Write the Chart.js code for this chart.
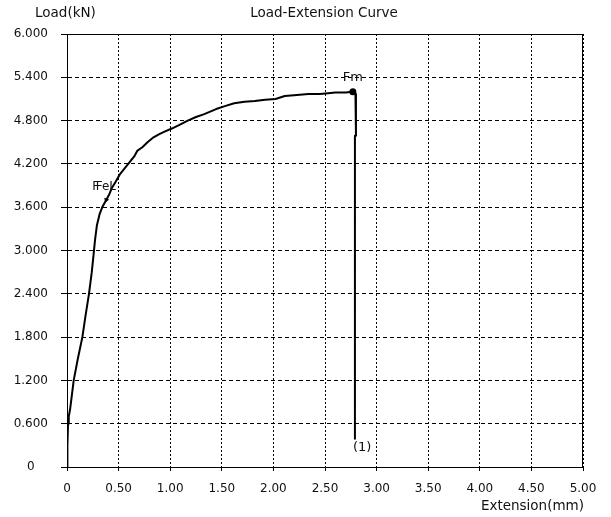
<!DOCTYPE html>
<html>
<head>
<meta charset="utf-8">
<script src="https://cdn.jsdelivr.net/npm/chart.js@4/dist/chart.umd.min.js"></script>
<style>
  html, body { margin: 0; padding: 0; background: #fff; }
  canvas { display: block; }
</style>
</head>
<body>
<canvas id="c" width="611" height="517"></canvas>
<script>
// ---- Data ----
const extension = [0, 0.004, 0.010, 0.017, 0.030, 0.065, 0.105, 0.149, 0.180, 0.213, 0.240, 0.258, 0.272, 0.290, 0.315, 0.345, 0.380, 0.410, 0.436, 0.470, 0.510, 0.560, 0.615, 0.650, 0.680, 0.730, 0.780, 0.830, 0.890, 0.950, 1.016, 1.090, 1.170, 1.250, 1.330, 1.445, 1.530, 1.620, 1.720, 1.820, 1.920, 2.020, 2.110, 2.200, 2.340, 2.450, 2.530, 2.600, 2.700, 2.770, 2.795, 2.800, 2.790, 2.790];
const load      = [0, 0.30, 0.60, 0.70, 0.80, 1.20, 1.50, 1.80, 2.10, 2.40, 2.70, 2.95, 3.15, 3.35, 3.50, 3.61, 3.70, 3.78, 3.87, 3.95, 4.05, 4.14, 4.24, 4.30, 4.38, 4.43, 4.50, 4.56, 4.61, 4.65, 4.69, 4.74, 4.80, 4.85, 4.89, 4.96, 5.00, 5.04, 5.06, 5.07, 5.09, 5.10, 5.14, 5.15, 5.17, 5.17, 5.18, 5.19, 5.19, 5.20, 5.17, 4.59, 4.59, 0.39];

const fmExt = [2.77], fmLoad = [5.20];     // Fm (maximum force)
const felExt = [0.38], felLoad = [3.70];   // FeL
const breakExt = [2.79], breakLoad = [0.39]; // specimen (1) end

const xTickValues = [0, 0.5, 1, 1.5, 2, 2.5, 3, 3.5, 4, 4.5, 5];
const xTickLabels = ['0', '0.50', '1.00', '1.50', '2.00', '2.50', '3.00', '3.50', '4.00', '4.50', '5.00'];
const yTickValues = [0, 0.6, 1.2, 1.8, 2.4, 3.0, 3.6, 4.2, 4.8, 5.4, 6.0];
const yTickLabels = ['0', '0.600', '1.200', '1.800', '2.400', '3.000', '3.600', '4.200', '4.800', '5.400', '6.000'];

const titleText = 'Load-Extension Curve';
const yTitleText = 'Load(kN)';
const xTitleText = 'Extension(mm)';

// ---- Chart ----
const FONT = "'DejaVu Sans', sans-serif";
Chart.defaults.font.family = FONT;
Chart.defaults.font.size = 12;
Chart.defaults.color = '#000';

const annotate = {
  id: 'annotate',
  afterDraw(chart) {
    const { ctx, chartArea: a, scales: { x, y } } = chart;
    ctx.save();
    // frame (top and right)
    ctx.strokeStyle = '#000';
    ctx.lineWidth = 1;
    ctx.setLineDash([]);
    ctx.beginPath();
    ctx.moveTo(Math.round(a.left), Math.round(a.top) + 0.5);
    ctx.lineTo(Math.round(a.right) - 0.5, Math.round(a.top) + 0.5);
    ctx.lineTo(Math.round(a.right) - 0.5, Math.round(a.bottom));
    ctx.stroke();

    ctx.fillStyle = '#111';
    ctx.textBaseline = 'middle';
    ctx.font = "13.5px " + FONT;
    ctx.textAlign = 'center';
    ctx.fillText(titleText, 324, 13.5);
    ctx.textAlign = 'left';
    ctx.fillText(yTitleText, 35, 13.5);
    ctx.textAlign = 'right';
    ctx.fillText(xTitleText, 584, 506);

    // point labels
    ctx.font = "13px " + FONT;
    ctx.textAlign = 'center';
    ctx.fillText('Fm', x.getPixelForValue(fmExt[0]), y.getPixelForValue(fmLoad[0]) - 14.5);
    ctx.textAlign = 'left';
    ctx.fillText('(1)', x.getPixelForValue(breakExt[0]) - 2, y.getPixelForValue(breakLoad[0]) + 8.5);
    ctx.font = "12px " + FONT;
    const fx = x.getPixelForValue(felExt[0]), fy = y.getPixelForValue(felLoad[0]);
    ctx.fillText('F', fx - 14, fy - 13.3);
    ctx.fillText('FeL', fx - 10.5, fy - 13.3);
    ctx.restore();
  }
};

new Chart(document.getElementById('c'), {
  type: 'scatter',
  data: {
    datasets: [
      {
        data: extension.map((v, i) => ({ x: v, y: load[i] })),
        showLine: true,
        borderColor: '#000',
        borderWidth: 2,
        borderJoinStyle: 'round',
        pointRadius: 0,
        tension: 0
      },
      {
        data: fmExt.map((v, i) => ({ x: v, y: fmLoad[i] })),
        pointRadius: 3.5,
        backgroundColor: '#000',
        borderColor: '#000',
        borderWidth: 0
      },
      {
        data: felExt.map((v, i) => ({ x: v, y: felLoad[i] })),
        pointStyle: 'triangle',
        rotation: 200,
        pointRadius: 3,
        backgroundColor: '#000',
        borderColor: '#000',
        borderWidth: 0
      }
    ]
  },
  options: {
    animation: false,
    responsive: false,
    devicePixelRatio: 1,
    layout: { padding: { top: 34, right: 28, left: 0, bottom: 0 } },
    plugins: { legend: { display: false }, tooltip: { enabled: false }, title: { display: false } },
    scales: {
      x: {
        type: 'linear',
        min: 0, max: 5,
        afterBuildTicks: s => { s.ticks = xTickValues.map(v => ({ value: v })); },
        afterFit: s => { s.height = 50; },
        ticks: {
          callback: (v, i) => xTickLabels[i],
          padding: 11,
          maxRotation: 0,
          autoSkip: false,
          color: '#111',
          font: { size: 12 }
        },
        grid: { color: '#000', lineWidth: 1, tickLength: 4, tickColor: '#000', tickBorderDash: [] },
        border: { display: true, color: '#000', width: 1, dash: [2, 2] }
      },
      y: {
        type: 'linear',
        min: 0, max: 6,
        afterBuildTicks: s => { s.ticks = yTickValues.map(v => ({ value: v })); },
        afterFit: s => { s.width = 67; },
        ticks: {
          callback: (v, i) => yTickLabels[i],
          crossAlign: 'center',
          padding: 13,
          autoSkip: false,
          color: '#111',
          font: { size: 12 }
        },
        grid: { color: '#000', lineWidth: 1, tickLength: 6, tickColor: '#000', tickBorderDash: [] },
        border: { display: true, color: '#000', width: 1, dash: [4, 3] }
      }
    }
  },
  plugins: [annotate]
});
</script>
</body>
</html>
